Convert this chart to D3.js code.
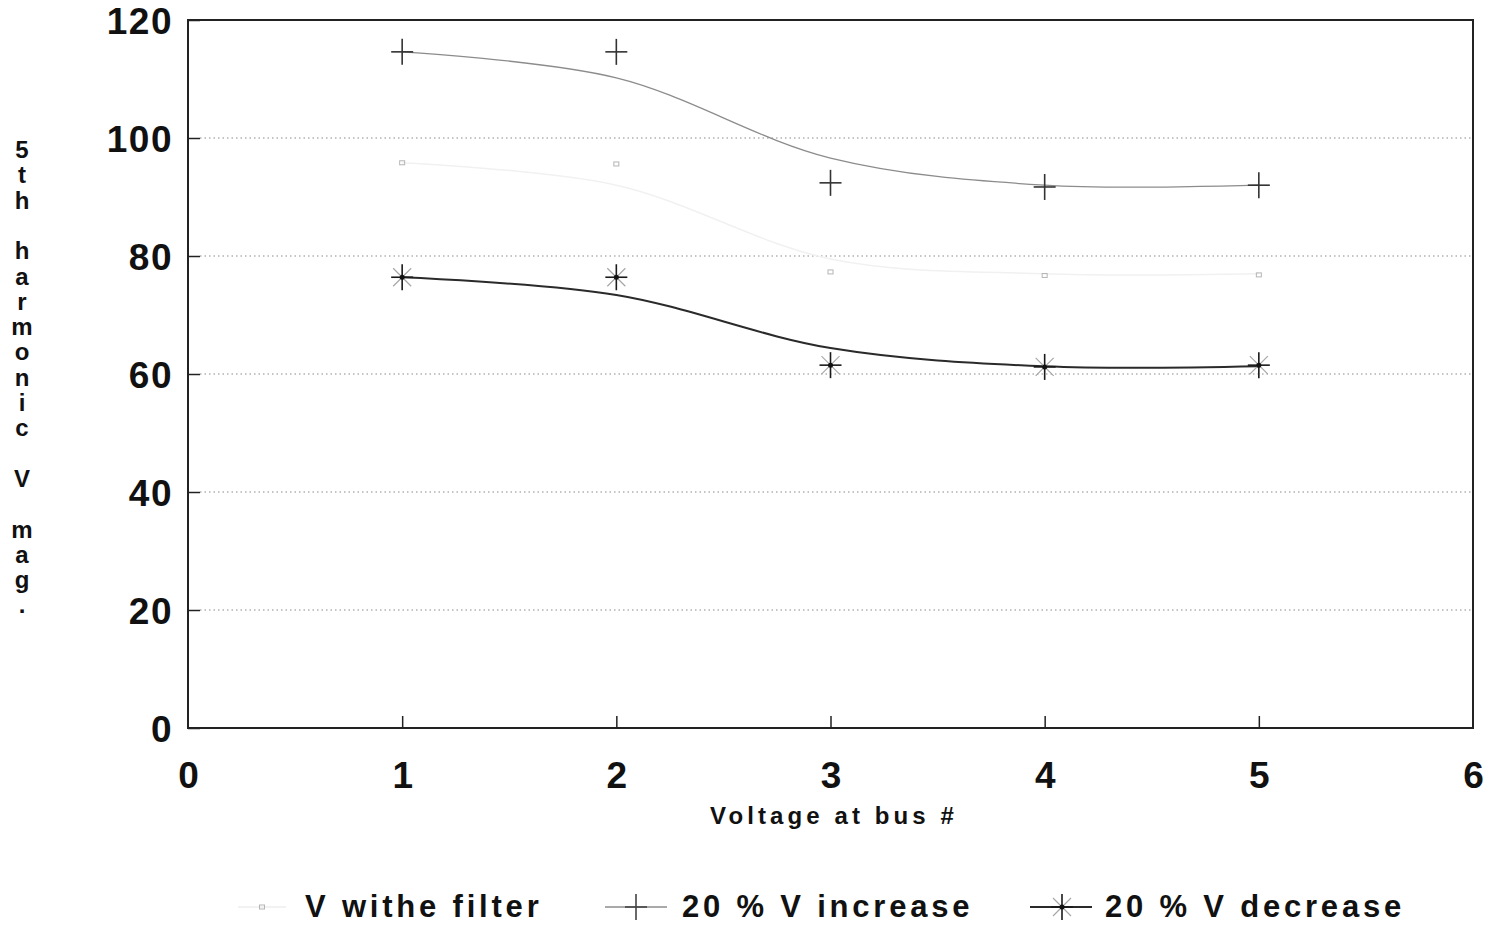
<!DOCTYPE html>
<html>
<head>
<meta charset="utf-8">
<script src="https://cdn.jsdelivr.net/npm/d3@7"></script>
<style>
  html, body { margin: 0; padding: 0; background: #fff; }
  svg { display: block; }
  text { font-family: "Liberation Sans", Arial, sans-serif; font-weight: bold; fill: #111; }
</style>
</head>
<body>
<svg id="chart" width="1498" height="925"></svg>
<script>
// ---- data ----
const buses = [1, 2, 3, 4, 5];
const filterValues = [95.8, 95.6, 77.3, 76.7, 76.8];
const increaseValues = [114.6, 114.6, 92.4, 91.7, 92.0];
const decreaseValues = [76.4, 76.4, 61.5, 61.2, 61.5];
// smoothed trend lines drawn through the series
const filterTrend = [95.8, 92.0, 79.5, 77.0, 77.0];
const increaseTrend = [114.6, 110.2, 96.6, 92.0, 92.0];
const decreaseTrend = [76.4, 73.4, 64.4, 61.3, 61.3];
const xTicks = [0, 1, 2, 3, 4, 5, 6];
const yTicks = [0, 20, 40, 60, 80, 100, 120];
const gridValues = [20, 40, 60, 80, 100];
const yTitle = "5th harmonic V mag.";
const xTitle = "Voltage at bus #";
const legendLabels = ["V withe filter", "20 % V increase", "20 % V decrease"];

// ---- layout ----
const svg = d3.select("#chart");
const x = d3.scaleLinear().domain([0, 6]).range([188, 1473]);
const y = d3.scaleLinear().domain([0, 120]).range([728, 20]);

// gridlines
svg.append("g").selectAll("line").data(gridValues).join("line")
  .attr("x1", x(0) + 12).attr("x2", x(6))
  .attr("y1", d => y(d)).attr("y2", d => y(d))
  .attr("stroke", "#8a8a8a").attr("stroke-width", 1.2)
  .attr("stroke-dasharray", "1.5,3");

// plot frame
svg.append("rect")
  .attr("x", x(0)).attr("y", y(120))
  .attr("width", x(6) - x(0)).attr("height", y(0) - y(120))
  .attr("fill", "none").attr("stroke", "#222").attr("stroke-width", 2);

// y ticks (inward) and labels
const yAxis = d3.axisLeft(y).tickValues(yTicks).tickSize(-12).tickPadding(15).tickFormat(d3.format("d"));
const gy = svg.append("g").attr("transform", `translate(${x(0)},0)`).call(yAxis);
gy.select(".domain").remove();
gy.selectAll(".tick line").attr("stroke", "#222").attr("stroke-width", 1.5);
gy.selectAll(".tick text")
  .attr("font-size", 37).attr("letter-spacing", "1.5px").attr("dy", "0.36em")
  .attr("font-family", "Liberation Sans, Arial, sans-serif").attr("font-weight", "bold").attr("fill", "#111");

// x ticks (inward) and labels
const xAxis = d3.axisBottom(x).tickValues(xTicks).tickSize(-12).tickPadding(34).tickFormat(d3.format("d"));
const gx = svg.append("g").attr("transform", `translate(0,${y(0)})`).call(xAxis);
gx.select(".domain").remove();
gx.selectAll(".tick line").attr("stroke", "#222").attr("stroke-width", 1.5)
  .filter(d => d === 0 || d === 6).remove();
gx.selectAll(".tick text")
  .attr("font-size", 37).attr("dy", "0.71em")
  .attr("font-family", "Liberation Sans, Arial, sans-serif").attr("font-weight", "bold").attr("fill", "#111");

// x title
svg.append("text").attr("x", 834).attr("y", 824).attr("text-anchor", "middle")
  .attr("font-size", 24).attr("letter-spacing", "4.1px").text(xTitle);

// y title: vertically stacked letters
svg.append("g").selectAll("text").data(yTitle.split("")).join("text")
  .attr("x", 22).attr("y", (d, i) => 158 + i * 25.3)
  .attr("text-anchor", "middle").attr("font-size", 24).text(d => d);

// ---- lines ----
const lineGen = d3.line().x((d, i) => x(buses[i])).y(d => y(d)).curve(d3.curveCatmullRom.alpha(0.5));
svg.append("path").datum(filterTrend).attr("d", lineGen)
  .attr("fill", "none").attr("stroke", "#f1f1f1").attr("stroke-width", 1.5);
svg.append("path").datum(increaseTrend).attr("d", lineGen)
  .attr("fill", "none").attr("stroke", "#8c8c8c").attr("stroke-width", 1.3);
svg.append("path").datum(decreaseTrend).attr("d", lineGen)
  .attr("fill", "none").attr("stroke", "#2a2a2a").attr("stroke-width", 2);

// ---- markers ----
function plusMarker(g, cx, cy, color) {
  g.append("line").attr("x1", cx).attr("x2", cx).attr("y1", cy - 13).attr("y2", cy + 13)
    .attr("stroke", color).attr("stroke-width", 1.6);
  g.append("line").attr("x1", cx - 11).attr("x2", cx + 11).attr("y1", cy).attr("y2", cy)
    .attr("stroke", color).attr("stroke-width", 1.6);
}
function starMarker(g, cx, cy) {
  const r = 9;
  g.append("line").attr("x1", cx - r).attr("x2", cx + r).attr("y1", cy - r).attr("y2", cy + r)
    .attr("stroke", "#a5a5a5").attr("stroke-width", 1.1);
  g.append("line").attr("x1", cx - r).attr("x2", cx + r).attr("y1", cy + r).attr("y2", cy - r)
    .attr("stroke", "#a5a5a5").attr("stroke-width", 1.1);
  plusMarker(g, cx, cy, "#1a1a1a");
  g.append("circle").attr("cx", cx).attr("cy", cy).attr("r", 2.5).attr("fill", "#111");
}
function squareMarker(g, cx, cy) {
  g.append("rect").attr("x", cx - 2.5).attr("y", cy - 2).attr("width", 5).attr("height", 4)
    .attr("fill", "none").attr("stroke", "#b5b5b5").attr("stroke-width", 1);
}

const mk = svg.append("g");
filterValues.forEach((v, i) => squareMarker(mk, x(buses[i]), y(v)));
increaseValues.forEach((v, i) => plusMarker(mk, x(buses[i]), y(v), "#333"));
decreaseValues.forEach((v, i) => starMarker(mk, x(buses[i]), y(v)));

// ---- legend ----
const leg = svg.append("g");
const legY = 907;
const legFont = 31, legSpacing = "3.8px";
// filter
leg.append("line").attr("x1", 238).attr("x2", 286).attr("y1", legY).attr("y2", legY)
  .attr("stroke", "#eeeeee").attr("stroke-width", 1.5);
squareMarker(leg, 262, legY);
leg.append("text").attr("x", 305).attr("y", legY + 10).attr("font-size", legFont)
  .attr("letter-spacing", legSpacing).text(legendLabels[0]);
// increase
leg.append("line").attr("x1", 605).attr("x2", 667).attr("y1", legY).attr("y2", legY)
  .attr("stroke", "#8c8c8c").attr("stroke-width", 1.3);
plusMarker(leg, 636, legY, "#444");
leg.append("text").attr("x", 682).attr("y", legY + 10).attr("font-size", legFont)
  .attr("letter-spacing", legSpacing).text(legendLabels[1]);
// decrease
leg.append("line").attr("x1", 1030).attr("x2", 1092).attr("y1", legY).attr("y2", legY)
  .attr("stroke", "#2a2a2a").attr("stroke-width", 2);
starMarker(leg, 1062, legY);
leg.append("text").attr("x", 1105).attr("y", legY + 10).attr("font-size", legFont)
  .attr("letter-spacing", legSpacing).text(legendLabels[2]);
</script>
</body>
</html>
